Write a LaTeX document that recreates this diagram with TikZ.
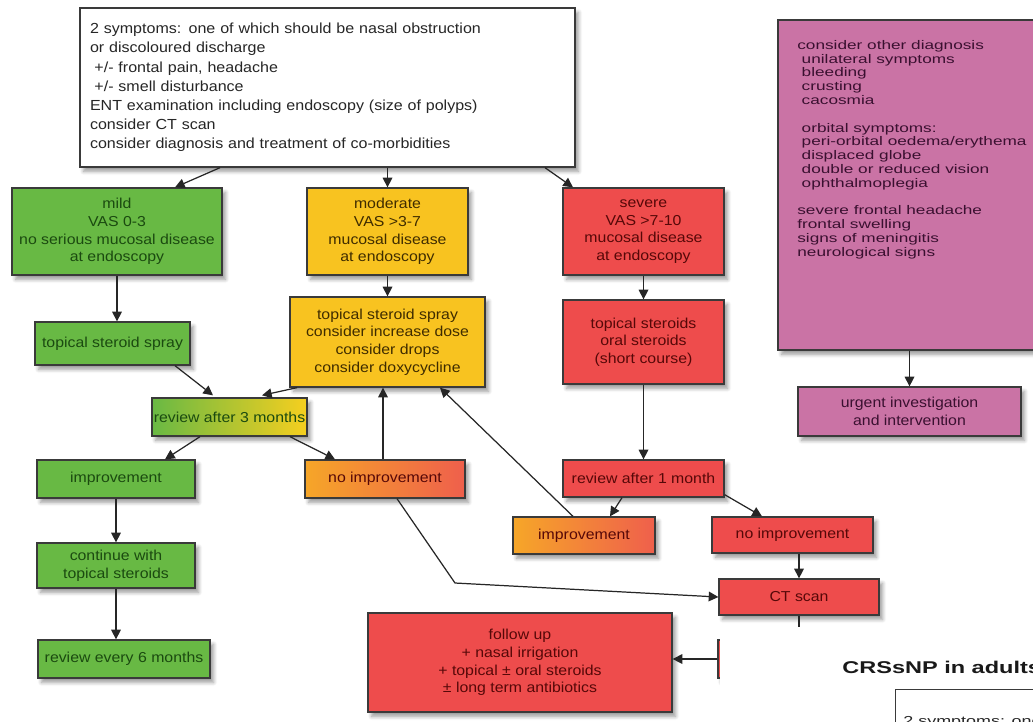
\documentclass[tikz,border=0pt]{standalone}
\usepackage{fontspec}
\setmainfont{Liberation Sans}
\newfontfamily\bfam[FakeStretch=1.1]{Liberation Sans}
\newfontfamily\pfam[FakeStretch=1.38]{Liberation Sans}
\newfontfamily\tfam[FakeStretch=1.38]{Liberation Sans}
\usetikzlibrary{arrows.meta,shadows.blur,calc}
\definecolor{bordc}{HTML}{3A3A3A}
\definecolor{gfill}{HTML}{68B944}
\definecolor{gtext}{HTML}{1B4A10}
\definecolor{yfill}{HTML}{F8C320}
\definecolor{ytext}{HTML}{3F2C00}
\definecolor{rfill}{HTML}{EE4C4C}
\definecolor{rtext}{HTML}{560808}
\definecolor{ofillA}{HTML}{F6A628}
\definecolor{ofillB}{HTML}{EF5F4C}
\definecolor{gyA}{HTML}{69B944}
\definecolor{gyB}{HTML}{F6CF1F}
\definecolor{pfill}{HTML}{CA73A5}
\definecolor{ptext}{HTML}{3A1030}
\begin{document}
\begin{tikzpicture}[x=0.02cm,y=-0.02cm,
  box/.style={draw=bordc, line width=0.75pt, rectangle, inner sep=1pt, align=center,
    font=\bfam\fontsize{8.2}{10}\selectfont,
    blur shadow={shadow xshift=2pt, shadow yshift=-2.5pt, shadow blur steps=6}},
  gbox/.style={box, fill=gfill, text=gtext},
  ybox/.style={box, fill=yfill, text=ytext},
  rbox/.style={box, fill=rfill, text=rtext},
  obox/.style={box, left color=ofillA, right color=ofillB, text=rtext},
  gybox/.style={box, left color=gyA, right color=gyB, text=gtext},
  pbox/.style={box, fill=pfill, text=ptext},
  arr/.style={-{Triangle[length=5.5pt,width=5.5pt]}, line width=0.7pt, draw=black!85}]
\useasboundingbox (0,0) rectangle (1033,721);
\clip (0,0) rectangle (1033,721);

% top box
\node[box, fill=white, text=black!85, align=left,
  font=\bfam\fontsize{8.3}{10.9}\selectfont,
  minimum width=9.9cm, minimum height=3.18cm, text width=9.5cm] (top) at (327.5,87.5)
 {2 symptoms: one of which should be nasal obstruction\\
  or discoloured discharge\\
  \hspace{0.3em}+/- frontal pain, headache\\
  \hspace{0.3em}+/- smell disturbance\\
  ENT examination including endoscopy (size of polyps)\\
  consider CT scan\\
  consider diagnosis and treatment of co-morbidities};

% purple
\node[pbox, minimum width=5.44cm, minimum height=6.6cm] (pb) at (914,185) {};
\node[font=\pfam\fontsize{7.1}{7.85}\selectfont, text=ptext, align=left, anchor=north west, inner sep=0] (ptx) at (797,40)
 {consider other diagnosis\\
  \hspace{0.35em}unilateral symptoms\\
  \hspace{0.35em}bleeding\\
  \hspace{0.35em}crusting\\
  \hspace{0.35em}cacosmia\\[7.85pt]
  \hspace{0.35em}orbital symptoms:\\
  \hspace{0.35em}peri-orbital oedema/erythema\\
  \hspace{0.35em}displaced globe\\
  \hspace{0.35em}double or reduced vision\\
  \hspace{0.35em}ophthalmoplegia\\[7.85pt]
  severe frontal headache\\
  frontal swelling\\
  signs of meningitis\\
  neurological signs};
\node[pbox, minimum width=4.46cm, minimum height=0.98cm] (urg) at (909.5,411.5) {urgent investigation\\and intervention};

% severity row
\node[gbox, minimum width=4.2cm, minimum height=1.74cm] (mild) at (117,231.5) {mild\\VAS 0-3\\no serious mucosal disease\\at endoscopy};
\node[ybox, minimum width=3.22cm, minimum height=1.74cm] (mod) at (387.5,231.5) {moderate\\VAS >3-7\\mucosal disease\\at endoscopy};
\node[rbox, minimum width=3.22cm, minimum height=1.74cm] (sev) at (643.5,231.5) {severe\\VAS >7-10\\mucosal disease\\at endoscopy};

% treatment row
\node[gbox, minimum width=3.1cm, minimum height=0.86cm] (spray) at (112.5,343.5) {topical steroid spray};
\node[ybox, minimum width=3.9cm, minimum height=1.8cm] (ybig) at (387.5,342) {topical steroid spray\\consider increase dose\\consider drops\\consider doxycycline};
\node[rbox, minimum width=3.22cm, minimum height=1.68cm] (rst) at (643.5,342) {topical steroids\\oral steroids\\(short course)};

% review row
\node[gybox, minimum width=2.82cm, minimum height=0.76cm] (rev3) at (229.5,417) {review after 3 months};
\node[gbox, minimum width=3.16cm, minimum height=0.76cm] (impg) at (116,479) {improvement};
\node[obox, minimum width=3.2cm, minimum height=0.76cm] (noimpo) at (385,479) {no improvement};
\node[rbox, minimum width=3.22cm, minimum height=0.74cm] (rev1) at (643.5,478.5) {review after 1 month};
\node[obox, minimum width=2.84cm, minimum height=0.74cm] (impo) at (584,535.5) {improvement};
\node[rbox, minimum width=3.22cm, minimum height=0.72cm] (noimpr) at (792.5,535) {no improvement};
\node[gbox, minimum width=3.16cm, minimum height=0.9cm] (cont) at (116,565.5) {continue with\\topical steroids};
\node[rbox, minimum width=3.2cm, minimum height=0.72cm] (ct) at (799,597) {CT scan};
\node[gbox, minimum width=3.44cm, minimum height=0.76cm] (rev6) at (124,659) {review every 6 months};
\node[rbox, minimum width=6.08cm, minimum height=1.98cm] (fup) at (520,662.5) {follow up\\+ nasal irrigation\\+ topical ± oral steroids\\± long term antibiotics};
\node[rbox, minimum width=2cm, minimum height=0.76cm] (hid) at (768,659) {};
\coordinate (ctend) at (799,650);

% connectors
\draw[arr] ([xshift=-2.15cm]top.south) -- ([xshift=1.16cm]mild.north);
\draw[arr] (mod.north |- top.south) -- (mod.north);
\draw[arr] ([xshift=4.35cm]top.south) -- ([xshift=-1.41cm]sev.north);
\draw[arr] (mild.south) -- (mild.south |- spray.north);
\draw[arr] (mod.south) -- (ybig.north);
\draw[arr] (sev.south) -- (rst.north);
\draw[arr] ([xshift=1.25cm]spray.south) -- ([xshift=-0.33cm,yshift=0.04cm]rev3.north);
\draw[arr] ([xshift=-1.81cm]ybig.south) -- ([xshift=0.65cm,yshift=0.04cm]rev3.north);
\draw[arr] ([xshift=-0.59cm]rev3.south) -- ([xshift=0.98cm]impg.north);
\draw[arr] ([xshift=1.21cm]rev3.south) -- ([xshift=-1.0cm]noimpo.north);
\draw[arr] ([xshift=-0.04cm]noimpo.north) -- ([xshift=-0.04cm]noimpo.north |- ybig.south);
\draw[arr] ([xshift=-0.22cm]impo.north) -- ([xshift=1.05cm]ybig.south);
\draw[arr] (impg.south) -- (cont.north);
\draw[arr] (cont.south) -- (cont.south |- rev6.north);
\draw[arr] (rst.south) -- (rev1.north);
\draw[arr] ([xshift=-0.43cm]rev1.south) -- ([xshift=0.52cm]impo.north);
\draw[arr] ([yshift=0.06cm]rev1.south east) -- ([xshift=-0.61cm]noimpr.north);
\draw[arr] (ct.north |- noimpr.south) -- (ct.north);
\draw[arr] ([xshift=0.24cm]noimpo.south) -- (455,583) -- (ct.west);
\draw[arr] (ct.south) -- (ctend);
\draw[arr] (hid.west) -- (hid.west -| fup.east);
\draw[arr] (urg.north |- pb.south) -- (urg.north);

% pasted overlay
\fill[white] (720,627) rectangle (1040,730);
\node[font=\tfam\bfseries\fontsize{9.7}{11}\selectfont, anchor=base west, inner sep=0, text=black!90] (ttl) at (842,673) {CRSsNP in adults};
\node[draw=bordc, line width=0.75pt, fill=white, anchor=north west, minimum width=4cm, minimum height=2cm,
  blur shadow={shadow xshift=2pt, shadow yshift=-2.5pt, shadow blur steps=6}] (pbx) at (895,689) {};
\node[font=\pfam\fontsize{7.4}{9}\selectfont, anchor=base west, inner sep=0, text=black!85] (ptxt2) at (903,725) {2 symptoms: one of which should be nasal obstruction};
\end{tikzpicture}
\end{document}
